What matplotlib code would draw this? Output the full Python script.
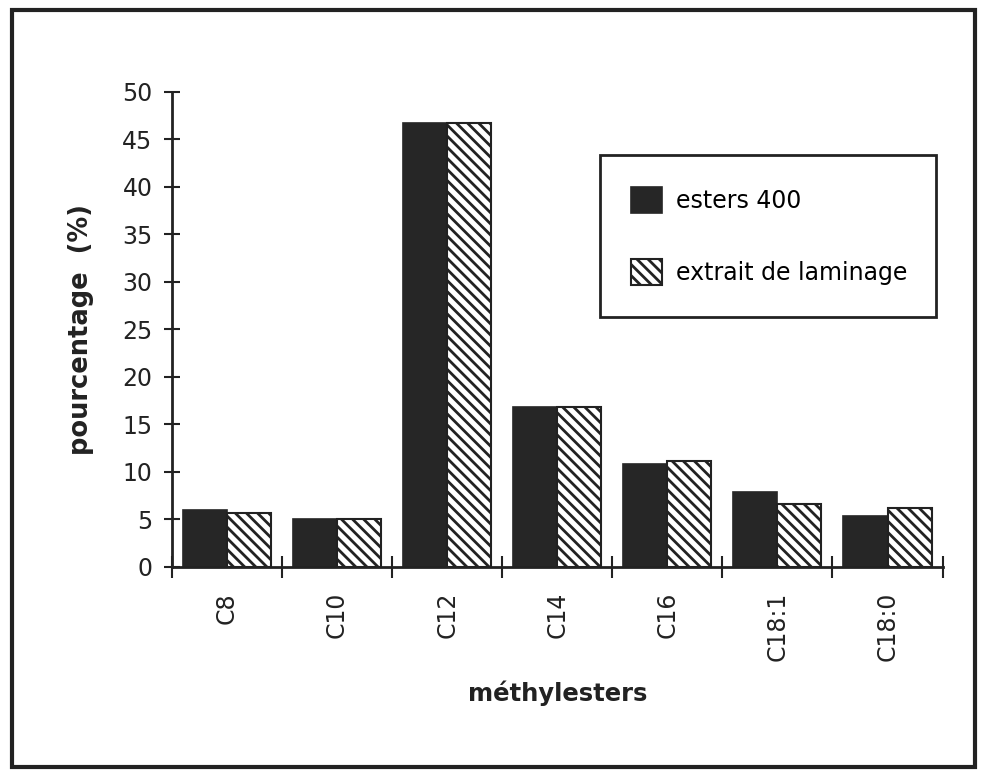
import matplotlib
matplotlib.use('Agg')
import matplotlib.pyplot as plt
from matplotlib.patches import Rectangle
import numpy as np

categories = ['C8', 'C10', 'C12', 'C14', 'C16', 'C18:1', 'C18:0']
esters_400 = [6.0, 5.0, 46.7, 16.8, 10.8, 7.9, 5.4]
extrait_laminage = [5.7, 5.0, 46.7, 16.8, 11.2, 6.6, 6.2]
yticks = [0, 5, 10, 15, 20, 25, 30, 35, 40, 45, 50]

plt.rcParams['font.family'] = ['DejaVu Sans']
plt.rcParams['hatch.linewidth'] = 2.0
plt.rcParams['hatch.color'] = '#222222'

fig = plt.figure(figsize=(9.88, 7.73), dpi=100)
ax = fig.add_axes([0.174, 0.2665, 0.780, 0.6145])

x = np.arange(len(categories))
w = 0.4
ax.bar(x - w / 2, esters_400, width=w, color='#262626', edgecolor='#262626',
       linewidth=1.2, label='esters 400')
ax.bar(x + w / 2, extrait_laminage, width=w, color='white', edgecolor='#222222',
       hatch='\\\\\\', linewidth=1.5, label='extrait de laminage')

ax.set_xlim(-0.5, len(categories) - 0.5)
ax.set_ylim(0, 50)
ax.set_yticks(yticks)
ax.tick_params(axis='y', direction='inout', length=12, width=1.5,
               labelsize=17, pad=8, colors='#222222')

ax.set_xticks(x)
ax.set_xticklabels(categories, rotation=90, fontsize=17, color='#222222')
ax.tick_params(axis='x', which='major', length=0, pad=18)
ax.set_xticks(np.arange(-0.5, len(categories), 1.0), minor=True)
ax.tick_params(axis='x', which='minor', direction='inout', length=16, width=1.5,
               colors='#222222')

for s in ['top', 'right']:
    ax.spines[s].set_visible(False)
for s in ['left', 'bottom']:
    ax.spines[s].set_linewidth(2)
    ax.spines[s].set_color('#222222')

ax.set_ylabel('pourcentage  (%)', fontsize=18.5, fontweight='bold', labelpad=20,
              color='#222222')
ax.set_xlabel('méthylesters', fontsize=17.5, fontweight='bold', labelpad=14,
              color='#222222')

# legend box stretched to the reference size
leg = ax.legend(loc='upper left', bbox_to_anchor=(0.555, 0.524, 0.437, 0.343),
                mode='expand', borderaxespad=0, fontsize=17, frameon=True,
                fancybox=False, framealpha=1, edgecolor='#222222',
                handlelength=1.3, handleheight=1.3, handletextpad=0.6,
                labelspacing=1.95, borderpad=1.35)
leg.get_frame().set_linewidth(2)

fig.patches.append(Rectangle((12 / 988, 1 - 767 / 773), 963 / 988, 757 / 773,
                             transform=fig.transFigure, fill=False,
                             edgecolor='#222222', linewidth=3))

fig.savefig('out.png', dpi=100)
